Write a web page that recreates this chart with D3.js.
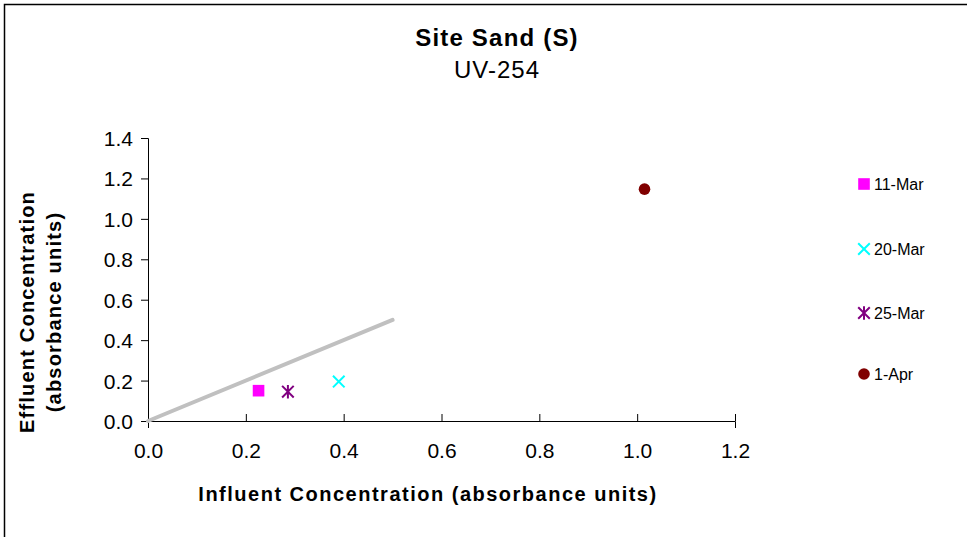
<!DOCTYPE html>
<html><head><meta charset="utf-8">
<script src="https://cdn.jsdelivr.net/npm/d3@7"></script>
<style>
html,body{margin:0;padding:0;background:#fff;}
text{font-family:"Liberation Sans",Arial,sans-serif;fill:#000;}
</style></head>
<body>
<svg id="c" width="967" height="537"></svg>
<script>
const seriesNames = ["11-Mar", "20-Mar", "25-Mar", "1-Apr"];
const influent = [0.226, 0.39, 0.286, 1.015];
const effluent = [0.15, 0.195, 0.145, 1.147];
const seriesColors = ["#ff00ff", "#00ffff", "#800080", "#800000"];
const seriesShapes = ["square", "x", "star", "circle"];
const refLineX = [0, 0.5];
const refLineY = [0, 0.5];
const xTicks = [0, 0.2, 0.4, 0.6, 0.8, 1.0, 1.2];
const yTicks = [0, 0.2, 0.4, 0.6, 0.8, 1.0, 1.2, 1.4];

const svg = d3.select("#c");
svg.append("path").attr("d","M4.5,537 L4.5,4.5 L967,4.5").attr("fill","none").attr("stroke","#000").attr("stroke-width",1.5);

const x = d3.scaleLinear().domain([0,1.2]).range([148,735]);
const y = d3.scaleLinear().domain([0,1.4]).range([421,138]);

const xAxis = svg.append("g").attr("transform","translate(0,421)")
  .call(d3.axisBottom(x).tickValues(xTicks).tickFormat(d3.format(".1f")).tickSizeOuter(0).tickSize(7));
const yAxis = svg.append("g").attr("transform","translate(148,0)")
  .call(d3.axisLeft(y).tickValues(yTicks).tickFormat(d3.format(".1f")).tickSizeOuter(0).tickSize(7).tickPadding(8));
[xAxis,yAxis].forEach(a=>{
  a.selectAll("text").style("font-family","Liberation Sans, Arial, sans-serif").style("font-size","21px").attr("fill","#000");
  a.selectAll("line").attr("stroke","#000");
  a.select(".domain").attr("stroke","#000");
});
xAxis.selectAll(".tick line").attr("y2",-7);
xAxis.selectAll(".tick text").attr("y",37).attr("dy",0);
yAxis.selectAll(".tick text").attr("dy","0.36em");

svg.append("line").attr("x1",x(refLineX[0])).attr("y1",y(refLineY[0]))
  .attr("x2",x(refLineX[1])).attr("y2",y(refLineY[1]))
  .attr("stroke","#c0c0c0").attr("stroke-width",4).attr("stroke-linecap","round");

function drawMarker(g, shape, color, cx, cy){
  const s = 5.8;
  if(shape==="square"){
    g.append("rect").attr("x",cx-s).attr("y",cy-s).attr("width",2*s).attr("height",2*s).attr("fill",color);
  } else if(shape==="circle"){
    g.append("circle").attr("cx",cx).attr("cy",cy).attr("r",s).attr("fill",color);
  } else if(shape==="x"){
    g.append("path").attr("d",`M${cx-s},${cy-s}L${cx+s},${cy+s}M${cx-s},${cy+s}L${cx+s},${cy-s}`)
      .attr("stroke",color).attr("stroke-width",2).attr("fill","none");
  } else if(shape==="star"){
    g.append("path").attr("d",`M${cx-s},${cy-s}L${cx+s},${cy+s}M${cx-s},${cy+s}L${cx+s},${cy-s}M${cx},${cy-s-1}L${cx},${cy+s+1}`)
      .attr("stroke",color).attr("stroke-width",2).attr("fill","none");
  }
}

const pts = svg.append("g");
seriesNames.forEach((n,i)=>{
  drawMarker(pts, seriesShapes[i], seriesColors[i], x(influent[i]), y(effluent[i]));
});

const legY = [184, 249, 313, 374];
const leg = svg.append("g");
seriesNames.forEach((n,i)=>{
  drawMarker(leg, seriesShapes[i], seriesColors[i], 864, legY[i]);
  leg.append("text").attr("x",874).attr("y",legY[i]).attr("dy","0.35em")
    .style("font-size","16px").text(n);
});

svg.append("text").attr("x",497).attr("y",46).attr("text-anchor","middle")
  .style("font-size","24px").style("font-weight","bold").style("letter-spacing","1.2px").text("Site Sand (S)");
svg.append("text").attr("x",497).attr("y",78).attr("text-anchor","middle")
  .style("font-size","24px").style("letter-spacing","1px").text("UV-254");
svg.append("text").attr("x",428).attr("y",501).attr("text-anchor","middle")
  .style("font-size","20px").style("font-weight","bold").style("letter-spacing","1.5px").text("Influent Concentration (absorbance units)");
const yt = svg.append("text").attr("transform","translate(34,312) rotate(-90)").attr("text-anchor","middle")
  .style("font-size","20px").style("font-weight","bold").style("letter-spacing","1.2px");
yt.append("tspan").attr("x",0).attr("y",0).text("Effluent Concentration");
yt.append("tspan").attr("x",0).attr("y",27).text("(absorbance units)");
</script>
</body></html>
